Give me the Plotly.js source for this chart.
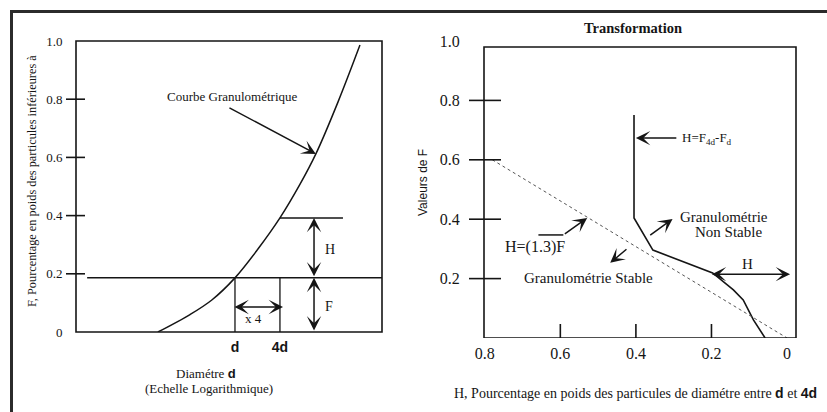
<!DOCTYPE html>
<html><head><meta charset="utf-8">
<script src="https://cdn.plot.ly/plotly-3.0.1.min.js"></script>
<style>html,body{margin:0;padding:0;background:#fff}#chart{width:827px;height:412px}</style>
</head><body><div id="chart"></div>
<script>
// ---- Left chart: grain-size curve (log diameter) ----
const diamLeft = [0.093, 0.25, 0.49, 1, 2.03, 4, 7.4, 12.1, 23.9, 47.1];
const fLeft    = [0, 0.06, 0.11, 0.186, 0.285, 0.392, 0.507, 0.612, 0.79, 0.986];
const dVal = 1, d4Val = 4;
const Fd = 0.186, F4d = 0.392;
const fdLineX = [0.0105, 93];
const f4dLineX = [4, 27.9];
const leftYTicks = [0, 0.2, 0.4, 0.6, 0.8, 1.0];
const leftYText  = ['0', '0.2', '0.4', '0.6', '0.8', '1.0'];
const leftXTicks = [1, 4];
const leftXText  = ['d', '4d'];

// ---- Right chart: transformation H vs F ----
const hRight = [0.405, 0.405, 0.355, 0.197, 0.142, 0.116, 0.089, 0.058];
const fRight = [0.751, 0.404, 0.296, 0.219, 0.162, 0.128, 0.061, 0];
const hCrit = [0.78, 0];
const fCrit = [0.6, 0];
const rightYTicks = [0.2, 0.4, 0.6, 0.8, 1.0];
const rightYText  = ['0.2', '0.4', '0.6', '0.8', '1.0'];
const rightXTicks = [0.8, 0.6, 0.4, 0.2, 0];
const rightXText  = ['0.8', '0.6', '0.4', '0.2', '0'];

const W = 827, Hh = 412;
const SERIF = 'Liberation Serif';
const SANS = 'Liberation Sans';
const INK = '#151515';
const lg = Math.log10;

const traces = [
  {x: diamLeft, y: fLeft, xaxis: 'x', yaxis: 'y', mode: 'lines', line: {color: INK, width: 1.5, shape: 'spline', smoothing: 1}, hoverinfo: 'skip'},
  {x: fdLineX, y: [Fd, Fd], xaxis: 'x', yaxis: 'y', mode: 'lines', line: {color: INK, width: 1.5}, hoverinfo: 'skip'},
  {x: f4dLineX, y: [F4d, F4d], xaxis: 'x', yaxis: 'y', mode: 'lines', line: {color: INK, width: 1.5}, hoverinfo: 'skip'},
  {x: [dVal, dVal], y: [0, Fd], xaxis: 'x', yaxis: 'y', mode: 'lines', line: {color: INK, width: 1.3}, hoverinfo: 'skip'},
  {x: [d4Val, d4Val], y: [0, Fd], xaxis: 'x', yaxis: 'y', mode: 'lines', line: {color: INK, width: 1.3}, hoverinfo: 'skip'},
  {x: hRight, y: fRight, xaxis: 'x2', yaxis: 'y2', mode: 'lines', line: {color: INK, width: 1.6}, hoverinfo: 'skip'},
  {x: hCrit, y: fCrit, xaxis: 'x2', yaxis: 'y2', mode: 'lines', line: {color: '#555', width: 1, dash: 'dot'}, hoverinfo: 'skip'}
];

const tickShapes = [];
leftYTicks.filter(v => v > 0 && v < 1).forEach(v => tickShapes.push({type: 'line', xref: 'x domain', yref: 'y', xsizemode: 'pixel', xanchor: 0, x0: -10, x1: 9, y0: v, y1: v, line: {color: INK, width: 1.6}}));
rightYTicks.filter(v => v < 1).forEach(v => tickShapes.push({type: 'line', xref: 'x2 domain', yref: 'y2', xsizemode: 'pixel', xanchor: 0, x0: -15, x1: 17, y0: v, y1: v, line: {color: INK, width: 1.6}}));
rightXTicks.filter(v => v > 0 && v < 0.8).forEach(v => tickShapes.push({type: 'line', xref: 'x2', yref: 'y2 domain', ysizemode: 'pixel', yanchor: 0, y0: 0, y1: 14, x0: v, x1: v, line: {color: INK, width: 1.6}}));

const shapes = [
  {type: 'rect', xref: 'paper', yref: 'paper', x0: 11.5 / W, x1: 1.05, y0: -0.05, y1: 1 - 11.5 / Hh, line: {color: '#2b2b2b', width: 3}},
  {type: 'rect', xref: 'x domain', yref: 'y domain', x0: 0, x1: 1, y0: 0, y1: 1, line: {color: INK, width: 1.6}},
  {type: 'rect', xref: 'x2 domain', yref: 'y2', x0: 0, x1: 1, y0: 0, y1: 0.98, line: {color: INK, width: 1.6}},
  {type: 'line', xref: 'x2', yref: 'y2', x0: 0.658, x1: 0.592, y0: 0.347, y1: 0.347, line: {color: INK, width: 1.5}}
].concat(tickShapes);

function arrow(xr, yr, x, y, ax, ay, both) {
  return {xref: xr, yref: yr, axref: xr, ayref: yr, x: x, y: y, ax: ax, ay: ay, text: '', showarrow: true,
    arrowhead: 3, arrowsize: 1.6, arrowwidth: 1.5, arrowcolor: INK, standoff: 0, startstandoff: 0,
    arrowside: both ? 'end+start' : 'end', startarrowhead: 3, startarrowsize: 1.6};
}
function txt(xr, yr, x, y, t, size, extra) {
  return Object.assign({xref: xr, yref: yr, x: x, y: y, text: t, showarrow: false, xanchor: 'center', yanchor: 'middle',
    font: {family: SERIF, size: size, color: INK}}, extra || {});
}
const B = s => '<span style="font-family:Liberation Sans;font-weight:bold">' + s + '</span>';

const annotations = [
  // left chart
  txt('x', 'y', -0.027, 0.808, 'Courbe Granulométrique', 13),
  arrow('x', 'y', lg(12.1), 0.612, -0.094, 0.773, false),
  arrow('x', 'y', 1.058, F4d, 1.058, Fd, true),
  arrow('x', 'y', 1.058, Fd, 1.058, 0, true),
  arrow('x', 'y', 0.643, 0.086, -0.027, 0.086, true),
  txt('x', 'y', 1.272, 0.285, 'H', 14),
  txt('x', 'y', 1.258, 0.086, 'F', 14),
  txt('x', 'y', 0.254, 0.045, 'x 4', 13),
  txt('paper', 'paper', 32 / W, 1 - 181 / Hh, 'F, Pourcentage en poids des particules inférieures à', 12.3, {textangle: -90}),
  txt('paper', 'paper', 206 / W, 1 - 373 / Hh, 'Diamétre ' + B('d'), 13),
  txt('paper', 'paper', 209 / W, 1 - 388 / Hh, '(Echelle Logarithmique)', 13),
  // right chart
  txt('paper', 'paper', 633 / W, 1 - 28 / Hh, '<b>Transformation</b>', 14.5),
  txt('paper', 'paper', 423 / W, 1 - 182 / Hh, 'Valeurs de F', 12, {textangle: -90, font: {family: SANS, size: 12, color: INK}}),
  txt('x2', 'y2', 0.282, 0.673, 'H=F<sub>4d</sub>-F<sub>d</sub>', 13, {xanchor: 'left'}),
  arrow('x2', 'y2', 0.4, 0.673, 0.289, 0.673, false),
  txt('x2', 'y2', 0.168, 0.407, 'Granulométrie', 15),
  txt('x2', 'y2', 0.155, 0.357, 'Non Stable', 15),
  arrow('x2', 'y2', 0.303, 0.401, 0.366, 0.343, false),
  txt('x2', 'y2', 0.668, 0.306, 'H=(1.3)F', 16),
  arrow('x2', 'y2', 0.529, 0.404, 0.592, 0.347, false),
  arrow('x2', 'y2', 0.468, 0.253, 0.421, 0.303, false),
  txt('x2', 'y2', 0.526, 0.202, 'Granulométrie Stable', 15),
  txt('x2', 'y2', 0.105, 0.249, 'H', 15),
  arrow('x2', 'y2', -0.008, 0.215, 0.203, 0.215, true),
  txt('paper', 'paper', 635 / W, 1 - 393 / Hh, 'H, Pourcentage en poids des particules de diamétre entre ' + B('d') + ' et ' + B('4d'), 14)
];

const hiddenAxis = {showgrid: false, zeroline: false, showline: false, ticks: 'outside', tickcolor: 'rgba(0,0,0,0)', fixedrange: true};

const layout = {
  width: W, height: Hh, margin: {l: 0, r: 0, t: 0, b: 0},
  paper_bgcolor: '#fff', plot_bgcolor: 'rgba(0,0,0,0)', showlegend: false,
  xaxis: Object.assign({}, hiddenAxis, {domain: [76 / W, 382 / W], type: 'log', range: [-2.128, 1.968], anchor: 'y',
    tickmode: 'array', tickvals: leftXTicks, ticktext: leftXText, ticklen: 2, tickfont: {family: SANS, size: 14, color: INK, weight: 'bold'}}),
  yaxis: Object.assign({}, hiddenAxis, {domain: [(Hh - 332) / Hh, (Hh - 41) / Hh], range: [0, 1], anchor: 'x',
    tickmode: 'array', tickvals: leftYTicks, ticktext: leftYText, ticklen: 10, tickfont: {family: SERIF, size: 13, color: INK}}),
  xaxis2: Object.assign({}, hiddenAxis, {domain: [484 / W, 796 / W], range: [0.802, -0.0237], anchor: 'y2',
    tickmode: 'array', tickvals: rightXTicks, ticktext: rightXText, ticklen: 1, tickfont: {family: SERIF, size: 16, color: INK}}),
  yaxis2: Object.assign({}, hiddenAxis, {domain: [(Hh - 338) / Hh, (Hh - 41) / Hh], range: [0, 1], anchor: 'x2',
    tickmode: 'array', tickvals: rightYTicks, ticktext: rightYText, ticklen: 20, tickfont: {family: SERIF, size: 16, color: INK}}),
  shapes: shapes, annotations: annotations
};

Plotly.newPlot('chart', traces, layout, {staticPlot: true, displayModeBar: false});
</script></body></html>
